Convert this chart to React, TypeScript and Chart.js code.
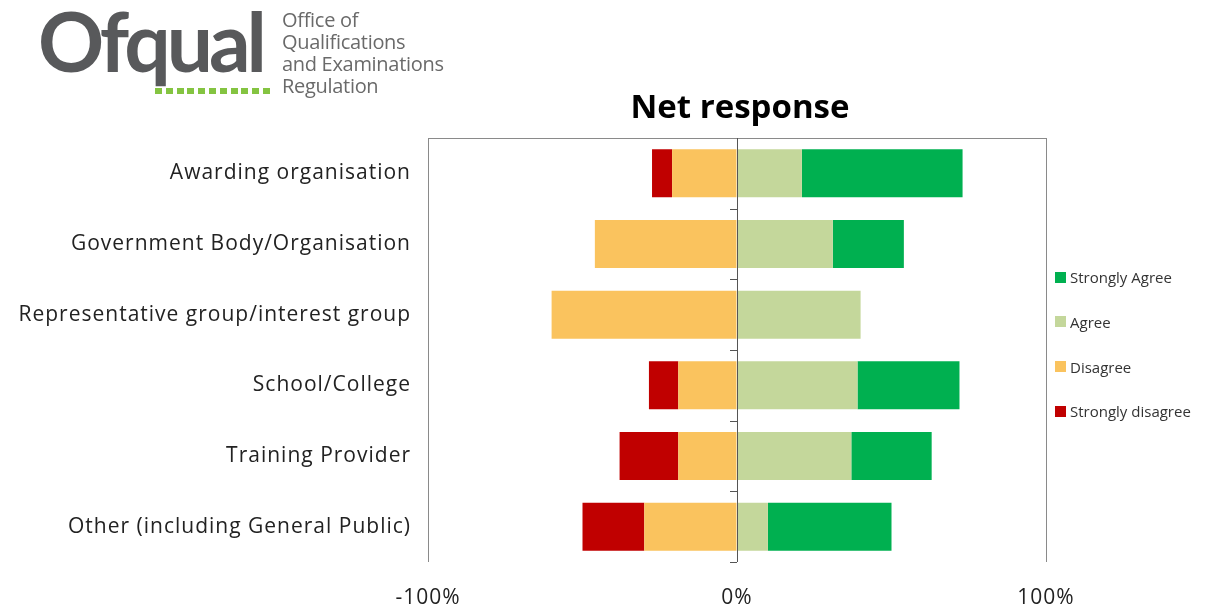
import React, { useEffect, useRef } from "react";
import { Chart, registerables } from "chart.js";

Chart.register(...registerables);

const categories = [
  "Awarding organisation",
  "Government Body/Organisation",
  "Representative group/interest group",
  "School/College",
  "Training Provider",
  "Other (including General Public)",
];
const stronglyAgree = [52, 23, 0, 33, 26, 40];
const agree = [21, 31, 40, 39, 37, 10];
const disagree = [-21, -46, -60, -19, -19, -30];
const stronglyDisagree = [-6.5, 0, 0, -9.5, -19, -20];
const xTicks = [-100, 0, 100];
const legendItems = [
  { label: "Strongly Agree", color: "#00B050" },
  { label: "Agree", color: "#C4D79B" },
  { label: "Disagree", color: "#FAC35E" },
  { label: "Strongly disagree", color: "#C00000" },
];

const FONT = "'Open Sans', 'Noto Sans', sans-serif";

const spacingPlugin = {
  id: "spacing",
  beforeDraw(chart: any) {
    (chart.ctx as any).letterSpacing = "1px";
  },
  afterDraw(chart: any) {
    (chart.ctx as any).letterSpacing = "0px";
  },
};

const framePlugin = {
  id: "frame",
  afterDraw(chart: any) {
    const { ctx, chartArea, scales } = chart;
    const x0 = scales.x.getPixelForValue(0);
    ctx.save();
    ctx.strokeStyle = "#8a8a8a";
    ctx.lineWidth = 1;
    ctx.beginPath();
    ctx.moveTo(chartArea.left, chartArea.top + 0.5);
    ctx.lineTo(chartArea.right, chartArea.top + 0.5);
    ctx.stroke();
    ctx.strokeStyle = "#555";
    for (let i = 0; i < categories.length; i++) {
      const y = Math.round(scales.y.getPixelForValue(i + 0.5)) + 0.5;
      ctx.beginPath();
      ctx.moveTo(x0 - 7, y);
      ctx.lineTo(x0, y);
      ctx.stroke();
    }
    ctx.beginPath();
    ctx.moveTo(Math.round(x0) + 0.5, chartArea.top);
    ctx.lineTo(Math.round(x0) + 0.5, chartArea.bottom);
    ctx.stroke();
    ctx.restore();
  },
};

export default function App() {
  const ref = useRef<HTMLCanvasElement | null>(null);
  useEffect(() => {
    if (!ref.current) return;
    const chart = new Chart(ref.current, {
      type: "bar",
      data: {
        labels: categories,
        datasets: [
          { label: "Agree", data: agree, backgroundColor: "#C4D79B", stack: "s" },
          { label: "Strongly Agree", data: stronglyAgree, backgroundColor: "#00B050", stack: "s" },
          { label: "Disagree", data: disagree, backgroundColor: "#FAC35E", stack: "s" },
          { label: "Strongly disagree", data: stronglyDisagree, backgroundColor: "#C00000", stack: "s" },
        ],
      },
      options: {
        indexAxis: "y",
        animation: false,
        responsive: false,
        maintainAspectRatio: false,
        datasets: { bar: { categoryPercentage: 1, barPercentage: 0.68 } },
        layout: { padding: { top: 138, right: 164, left: 0, bottom: 0 } },
        plugins: { legend: { display: false }, tooltip: { enabled: false }, title: { display: false } },
        scales: {
          x: {
            stacked: true,
            min: -100,
            max: 100,
            afterBuildTicks: (s: any) => {
              s.ticks = xTicks.map((v) => ({ value: v }));
            },
            afterFit: (s: any) => {
              s.height = 47;
            },
            ticks: {
              callback: (v: any) => v + "%",
              font: { family: FONT, size: 21 },
              color: "#222",
              padding: 23,
              maxRotation: 0,
            },
            grid: { color: "#8a8a8a", drawTicks: false, lineWidth: 1 },
            border: { display: false },
          },
          y: {
            stacked: true,
            afterFit: (s: any) => {
              s.width = 428;
            },
            ticks: {
              font: { family: FONT, size: 21 },
              color: "#222",
              padding: 17,
            },
            grid: { display: false, drawTicks: false },
            border: { display: false },
          },
        },
      },
      plugins: [spacingPlugin, framePlugin],
    } as any);
    return () => chart.destroy();
  }, []);

  return (
    <div style={{ position: "fixed", left: 0, top: 0, width: 1210, height: 609, background: "#fff", overflow: "hidden" }}>
      <canvas ref={ref} width={1210} height={609} style={{ position: "absolute", left: 0, top: 0 }} />
      {/* Logo */}
      <div style={{ position: "absolute", left: 38, top: -1, fontFamily: "Lato, 'Noto Sans', sans-serif", fontWeight: 700, fontSize: 82, color: "#58595b", letterSpacing: -4, lineHeight: "82px", whiteSpace: "nowrap" }}>
        Ofqual
      </div>
      <div style={{ position: "absolute", left: 282, top: 9, fontFamily: "'Open Sans', sans-serif", fontSize: 20, color: "#6a6a6a", lineHeight: "22px", letterSpacing: -0.3, whiteSpace: "nowrap" }}>
        <div>Office of</div>
        <div>Qualifications</div>
        <div>and Examinations</div>
        <div>Regulation</div>
      </div>
      <div style={{ position: "absolute", left: 155, top: 88, width: 118, height: 6, background: "repeating-linear-gradient(90deg, #84c441 0px, #84c441 7px, transparent 7px, transparent 10.8px)" }} />
      {/* Title */}
      <div style={{ position: "absolute", left: 540, width: 400, top: 86, textAlign: "center", fontFamily: "'Open Sans', 'Noto Sans', sans-serif", fontWeight: 700, fontSize: 33, color: "#000", lineHeight: "40px" }}>
        Net response
      </div>
      {/* Legend */}
      {legendItems.map((it, i) => (
        <div key={it.label} style={{ position: "absolute", left: 1055, top: 265 + i * 44.8, height: 24, display: "flex", alignItems: "center", fontFamily: "'Open Sans', sans-serif", fontSize: 15, color: "#333", whiteSpace: "nowrap" }}>
          <span style={{ display: "inline-block", width: 11, height: 11, background: it.color, marginRight: 4 }} />
          {it.label}
        </div>
      ))}
    </div>
  );
}
